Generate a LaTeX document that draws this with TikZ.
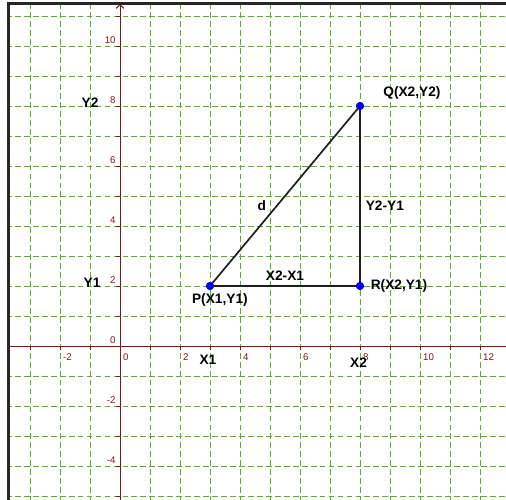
\documentclass[tikz,border=0pt]{standalone}
\usepackage{fontspec}
\setmainfont{Liberation Sans}
\usetikzlibrary{arrows.meta}
\definecolor{gridgreen}{RGB}{90,175,35}
\definecolor{axisred}{RGB}{128,20,20}
\definecolor{linegray}{RGB}{30,30,30}
\tikzset{
  gridline/.style={gridgreen, line width=0.8pt, dash pattern=on 5.5pt off 3pt},
  axisline/.style={axisred, line width=0.9pt},
  ticklab/.style={axisred, font=\fontsize{9.2}{10}\selectfont, inner sep=0pt},
  lab/.style={font=\fontsize{13}{15}\selectfont\bfseries, inner sep=0pt, text=black},
  seg/.style={linegray, line width=1.6pt},
  pt/.style={circle, fill=blue, draw=blue!70!black, line width=0.4pt, minimum size=7pt, inner sep=0pt},
  frameline/.style={black!85, line width=2pt}
}
\begin{document}
\begin{tikzpicture}
\useasboundingbox (-4,-5.1333) rectangle (12.8667,11.5333);
\fill[white] (-4,-5.1333) rectangle (12.8667,11.5333);
% grid
\begin{scope}
\clip (-3.717,-5.1333) rectangle (12.8667,11.417);
\foreach \x in {-3,...,12} \draw[gridline] (\x,-5.2) -- (\x,11.5);
\foreach \y in {-5,...,11} \draw[gridline] (-3.8,\y) -- (12.9,\y);
\end{scope}
% axes
\coordinate (xs) at (-3.717,0);
\coordinate (xe) at (12.8667,0);
\coordinate (ys) at (0,-5.1333);
\coordinate (ye) at (0,11.40);
\draw[axisline] (xs) -- (xe);
\draw[axisline, -{Straight Barb[length=3.5pt,width=7pt]}] (ys) -- (ye);
\foreach \x in {-3,...,12} \draw[axisline] (\x,0) -- (\x,-0.12);
\foreach \y in {-5,...,11} \draw[axisline] (0,\y) -- (-0.12,\y);
% tick labels
\foreach \x in {-2,0,2,4,6,8,10,12} \node[ticklab, anchor=west] (tx\x) at (\x+0.1,-0.37) {\x};
\foreach \y in {-4,-2,0,2,4,6,8,10} \node[ticklab, anchor=east] (ty\y) at (-0.14,\y+0.18) {\y};
% frame
\draw[frameline] (-3.717,-5.1333) -- (-3.717,11.417) -- (12.8667,11.417);
% triangle
\node[pt] (P) at (3,2) {};
\node[pt] (Q) at (8,8) {};
\node[pt] (R) at (8,2) {};
\draw[seg] (P) -- (R);
\draw[seg] (R) -- (Q);
\draw[seg] (Q) -- (P);
\node[pt] at (P) {};
\node[pt] at (Q) {};
\node[pt] at (R) {};
% labels
\node[lab] (lY2) at (-1.0,8.1) {Y2};
\node[lab] (lY1) at (-0.93,2.1) {Y1};
\node[lab] (lX1) at (2.93,-0.47) {X1};
\node[lab] (lX2) at (7.95,-0.55) {X2};
\node[lab] (ld) at (4.73,4.67) {d};
\node[lab] (lYY) at (8.83,4.67) {Y2-Y1};
\node[lab] (lXX) at (5.5,2.33) {X2-X1};
\node[lab] (lP) at (3.33,1.53) {P(X1,Y1)};
\node[lab] (lQ) at (9.73,8.43) {Q(X2,Y2)};
\node[lab] (lR) at (9.3,2.0) {R(X2,Y1)};
\end{tikzpicture}
\end{document}
